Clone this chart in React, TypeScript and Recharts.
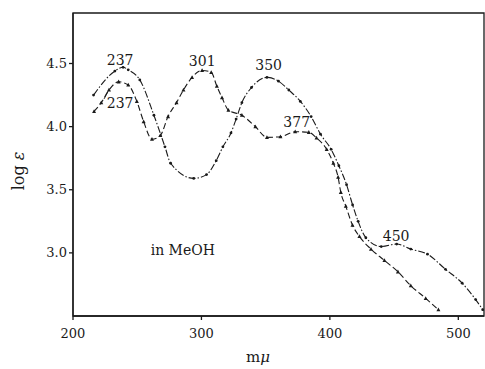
import {
  LineChart,
  Line,
  XAxis,
  YAxis,
  ReferenceDot,
  ReferenceLine,
  ReferenceArea,
} from "recharts";

// curve with the 237 / 350 / 450 maxima (dash-dot, round points)
const seriesA = [
  { x: 216, y: 4.25 },
  { x: 232.6, y: 4.44 },
  { x: 239, y: 4.47 },
  { x: 243, y: 4.45 },
  { x: 252, y: 4.37 },
  { x: 263, y: 4.09 },
  { x: 271.6, y: 3.84 },
  { x: 276, y: 3.71 },
  { x: 294, y: 3.59 },
  { x: 304, y: 3.62 },
  { x: 311.5, y: 3.73 },
  { x: 316.7, y: 3.84 },
  { x: 323, y: 3.95 },
  { x: 327, y: 4.06 },
  { x: 331.5, y: 4.19 },
  { x: 339, y: 4.31 },
  { x: 351, y: 4.39 },
  { x: 360, y: 4.36 },
  { x: 368, y: 4.29 },
  { x: 377, y: 4.2 },
  { x: 385.4, y: 4.08 },
  { x: 392.7, y: 3.94 },
  { x: 401, y: 3.82 },
  { x: 407, y: 3.69 },
  { x: 413, y: 3.54 },
  { x: 417.7, y: 3.38 },
  { x: 422, y: 3.25 },
  { x: 428, y: 3.12 },
  { x: 440, y: 3.05 },
  { x: 452, y: 3.07 },
  { x: 463, y: 3.03 },
  { x: 476, y: 2.99 },
  { x: 490, y: 2.87 },
  { x: 503, y: 2.76 },
  { x: 513.5, y: 2.63 },
  { x: 519, y: 2.55 },
];

// curve with the 237 / 301 / 377 maxima (dashed, triangle points)
const seriesB = [
  { x: 216.4, y: 4.12 },
  { x: 222, y: 4.19 },
  { x: 228, y: 4.29 },
  { x: 235.5, y: 4.355 },
  { x: 243, y: 4.33 },
  { x: 249.7, y: 4.2 },
  { x: 255, y: 4.04 },
  { x: 261.5, y: 3.9 },
  { x: 268, y: 3.93 },
  { x: 274, y: 4.08 },
  { x: 280.6, y: 4.19 },
  { x: 286, y: 4.29 },
  { x: 292.7, y: 4.39 },
  { x: 300.5, y: 4.445 },
  { x: 307.6, y: 4.43 },
  { x: 312, y: 4.32 },
  { x: 316, y: 4.23 },
  { x: 321, y: 4.13 },
  { x: 331.5, y: 4.09 },
  { x: 342, y: 4.0 },
  { x: 351, y: 3.915 },
  { x: 361.5, y: 3.92 },
  { x: 373, y: 3.96 },
  { x: 383.6, y: 3.955 },
  { x: 389.6, y: 3.91 },
  { x: 397.5, y: 3.82 },
  { x: 402.7, y: 3.71 },
  { x: 406.4, y: 3.6 },
  { x: 408.5, y: 3.48 },
  { x: 412.4, y: 3.37 },
  { x: 417.6, y: 3.22 },
  { x: 423, y: 3.13 },
  { x: 432, y: 3.03 },
  { x: 442.5, y: 2.94 },
  { x: 453, y: 2.85 },
  { x: 463, y: 2.74 },
  { x: 474.6, y: 2.64 },
  { x: 484.5, y: 2.55 },
];

const xTicks = [200, 300, 400, 500];
const yTicks = [3.0, 3.5, 4.0, 4.5];

const annotations = [
  { x: 236.7, y: 4.53, text: "237" },
  { x: 236.7, y: 4.19, text: "237" },
  { x: 300.6, y: 4.52, text: "301" },
  { x: 352.3, y: 4.485, text: "350" },
  { x: 374.2, y: 4.04, text: "377" },
  { x: 451.6, y: 3.13, text: "450" },
  { x: 285.5, y: 3.02, text: "in MeOH" },
];

const FONT = "'DejaVu Serif', 'Liberation Serif', serif";
const INK = "#1a1a1a";

const Triangle = (props: any) => {
  const { cx, cy } = props;
  if (cx == null || cy == null) return null;
  return (
    <path
      d={`M${cx},${cy - 2.2} L${cx + 2},${cy + 1.6} L${cx - 2},${cy + 1.6} Z`}
      fill={INK}
    />
  );
};

export default function App() {
  return (
    <div style={{ width: 485, height: 369, background: "#fff" }}>
      <style>{`body{margin:0}`}</style>
      <LineChart
        width={485}
        height={369}
        margin={{ top: 13, right: 1, left: 0, bottom: 0 }}
      >
        <XAxis
          xAxisId="b"
          type="number"
          dataKey="x"
          domain={[200, 520]}
          ticks={xTicks}
          allowDataOverflow
          height={53}
          stroke={INK}
          strokeWidth={1.3}
          tickSize={4}
          tick={{ fontSize: 13, fill: INK, fontFamily: FONT }}
          tickMargin={9}
          label={(p: any) => {
            const vb = p.viewBox;
            return (
              <text
                x={258}
                y={vb.y + 46}
                textAnchor="middle"
                fontFamily={FONT}
                fontSize={15}
                fill={INK}
              >
                m<tspan fontStyle="italic">μ</tspan>
              </text>
            );
          }}
        />
        <YAxis
          yAxisId="l"
          type="number"
          domain={[2.5, 4.9]}
          ticks={yTicks}
          allowDataOverflow
          width={73}
          stroke={INK}
          strokeWidth={1.3}
          tickSize={4}
          tickFormatter={(v: number) => v.toFixed(1)}
          tick={{ fontSize: 13, fill: INK, fontFamily: FONT }}
          label={() => (
            <text
              x={24}
              y={171}
              transform="rotate(-90 24 171)"
              textAnchor="middle"
              fontFamily={FONT}
              fontSize={16}
              fill={INK}
            >
              log <tspan fontStyle="italic">ε</tspan>
            </text>
          )}
        />
        <ReferenceArea
          xAxisId="b"
          yAxisId="l"
          x1={200}
          x2={520}
          y1={2.5}
          y2={4.9}
          fill="none"
          stroke={INK}
          strokeWidth={1.3}
          ifOverflow="visible"
        />
        <Line
          xAxisId="b"
          yAxisId="l"
          data={seriesA}
          dataKey="y"
          type="monotone"
          stroke={INK}
          strokeWidth={1.1}
          strokeDasharray="7 2 1.5 2"
          dot={{ r: 1.4, fill: INK, stroke: "none" }}
          isAnimationActive={false}
        />
        <Line
          xAxisId="b"
          yAxisId="l"
          data={seriesB}
          dataKey="y"
          type="monotone"
          stroke={INK}
          strokeWidth={1.1}
          strokeDasharray="6 3"
          dot={<Triangle />}
          isAnimationActive={false}
        />
        <ReferenceLine
          xAxisId="b"
          yAxisId="l"
          segment={[
            { x: 224.2, y: 4.22 },
            { x: 227.3, y: 4.28 },
          ]}
          stroke={INK}
          strokeWidth={1}
        />
        {annotations.map((a, i) => (
          <ReferenceDot
            key={i}
            xAxisId="b"
            yAxisId="l"
            x={a.x}
            y={a.y}
            r={0}
            stroke="none"
            label={{
              value: a.text,
              position: "center",
              fontSize: 14,
              fill: INK,
              fontFamily: FONT,
            }}
          />
        ))}
      </LineChart>
    </div>
  );
}
